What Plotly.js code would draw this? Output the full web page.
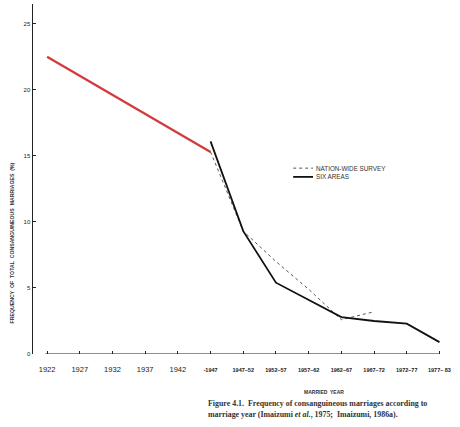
<!DOCTYPE html>
<html><head><meta charset="utf-8">
<script src="https://cdn.plot.ly/plotly-3.0.1.min.js"></script>
<style>html,body{margin:0;padding:0;background:#fff}#chart{width:460px;height:427px}</style>
</head><body><div id="chart"></div>
<script>
// categories (index positions along the x axis)
const categories = ["1922","1927","1932","1937","1942","~1947","1947–52","1952–57","1957–62","1962–67","1967–72","1972–77","1977– 83"];
const catIndex = categories.map((c,i)=>i);
// red early trend
const earlyCats = [0, 5];
const earlyVals = [22.5, 15.3];
// nation-wide survey
const nationCats = [5, 6, 7, 8, 9, 10];
const nationVals = [15.3, 9.3, 7.0, 4.9, 2.6, 3.2];
// six areas
const sixCats = [5, 6, 7, 8, 9, 10, 11, 12];
const sixVals = [16.1, 9.3, 5.4, 4.1, 2.8, 2.5, 2.3, 0.9];
const yTicks = [0, 5, 10, 15, 20, 25];
const legendNames = ['NATION-WIDE SURVEY', 'SIX AREAS'];

const tickText = categories.map((c,i)=> i<5 ? c : '<span style="font-size:5.5px"><b>'+c.replace('~','-')+'</b></span>');

const data = [
  {x: earlyCats, y: earlyVals, mode:'lines', line:{color:'#d23a3e', width:2.3}, showlegend:false, hoverinfo:'skip'},
  {x: nationCats, y: nationVals, mode:'lines', name:legendNames[0], line:{color:'#444', width:0.9, dash:'dot'}, showlegend:false},
  {x: sixCats, y: sixVals, mode:'lines', name:legendNames[1], line:{color:'#111', width:1.8}, showlegend:false}
];

const layout = {
  width:460, height:427,
  margin:{l:33, r:14, t:4, b:73},
  paper_bgcolor:'#fff', plot_bgcolor:'#fff',
  font:{family:'Liberation Sans, Arial, sans-serif', color:'#222'},
  showlegend:false,
  xaxis:{range:[-0.43, 12.2], tickvals:catIndex, ticktext:tickText, ticks:'inside', ticklen:3,
         tickcolor:'#222', showgrid:false, zeroline:false, showline:false, ticklabelstandoff:9,
         tickfont:{size:7.5, color:'#222'}, fixedrange:true},
  yaxis:{range:[0, 26.5], tickvals:yTicks, ticks:'inside', ticklen:3, tickcolor:'#222',
         showgrid:false, zeroline:false, showline:true, linecolor:'#222', linewidth:1.5,
         tickfont:{size:6, color:'#222'}, fixedrange:true},
  shapes:[
    {type:'line', xref:'x', yref:'y', x0:-0.05, x1:11.98, y0:0, y1:0, line:{color:'#222', width:1.2}},
    {type:'line', xref:'paper', yref:'paper', x0:0.630, x1:0.678, y0:0.531, y1:0.531, line:{color:'#444', width:0.9, dash:'dot'}},
    {type:'line', xref:'paper', yref:'paper', x0:0.630, x1:0.678, y0:0.506, y1:0.506, line:{color:'#111', width:1.8}}
  ],
  annotations:[
    {text:legendNames[0], xref:'paper', yref:'paper', x:0.681, y:0.531, xanchor:'left', yanchor:'middle',
     showarrow:false, font:{size:6.3, color:'#333'}},
    {text:legendNames[1], xref:'paper', yref:'paper', x:0.681, y:0.506, xanchor:'left', yanchor:'middle',
     showarrow:false, font:{size:6.3, color:'#333'}},
    {text:'<b>FREQUENCY  OF  TOTAL  CONSANGUINEOUS  MARRIAGES  (%)</b>', xref:'paper', yref:'paper',
     x:-0.05, y:0.317, xanchor:'center', yanchor:'middle', textangle:-90, showarrow:false,
     font:{size:5.2, color:'#333'}},
    {text:'<b>MARRIED  YEAR</b>', xref:'paper', yref:'paper', x:0.705, y:-0.109, xanchor:'center',
     yanchor:'middle', showarrow:false, font:{size:5, color:'#333'}},
    {text:'<b>Figure 4.1.  Frequency of consanguineous marriages according to</b>',
     xref:'paper', yref:'paper', x:0.42, y:-0.14, xanchor:'left', yanchor:'middle', align:'left', showarrow:false,
     font:{size:7.9, color:'#333', family:'Liberation Serif, DejaVu Serif, serif'}},
    {text:'<b>marriage year (Imaizumi <i>et al.</i>, 1975;  Imaizumi, 1986a).</b>',
     xref:'paper', yref:'paper', x:0.42, y:-0.174, xanchor:'left', yanchor:'middle', align:'left', showarrow:false,
     font:{size:7.9, color:'#333', family:'Liberation Serif, DejaVu Serif, serif'}}
  ]
};
Plotly.newPlot('chart', data, layout, {displayModeBar:false, staticPlot:true});
</script></body></html>
